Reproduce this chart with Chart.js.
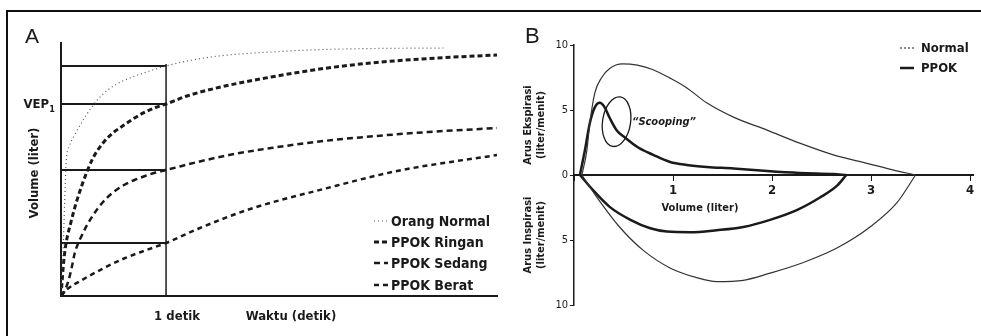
<!DOCTYPE html>
<html>
<head>
<meta charset="utf-8">
<script src="https://cdn.jsdelivr.net/npm/chart.js@4.4.1/dist/chart.umd.min.js"></script>
<style>
body { margin: 0; background: #fff; }
#wrap { position: relative; width: 981px; height: 336px; overflow: hidden; background: #fff; }
#frame { position: absolute; left: 6px; top: 10px; width: 980px; height: 330px; border-top: 2px solid #111; border-left: 2px solid #111; }
#chartA { position: absolute; left: 0; top: 0; }
#chartB { position: absolute; left: 520px; top: 0; }
</style>
</head>
<body>
<div id="wrap">
  <div id="frame"></div>
  <canvas id="chartA" width="520" height="336"></canvas>
  <canvas id="chartB" width="461" height="336"></canvas>
</div>
<script>
// ---- Panel A : volume (liter) vs waktu (detik)
const labelsA = ['Orang Normal', 'PPOK Ringan', 'PPOK Sedang', 'PPOK Berat'];

const timeNormal = [0, 0.02, 0.035, 0.05, 0.08, 0.13, 0.2, 0.3, 0.4, 0.5, 0.6, 0.8, 1.0, 1.2, 1.5, 2.0, 2.5, 3.0, 3.65];
const volNormal  = [0, 0.9, 1.9, 2.7, 3.0, 3.22, 3.48, 3.8, 4.04, 4.2, 4.31, 4.47, 4.60, 4.70, 4.80, 4.88, 4.93, 4.95, 4.96];

const timeRingan = [0, 0.03, 0.1, 0.2, 0.3, 0.4, 0.5, 0.6, 0.7, 0.8, 0.9, 1.0, 1.2, 1.5, 2.0, 2.5, 3.0, 3.5, 4.15];
const volRingan  = [0, 0.78, 1.52, 2.22, 2.74, 3.06, 3.27, 3.42, 3.56, 3.68, 3.77, 3.84, 4.0, 4.17, 4.38, 4.55, 4.67, 4.75, 4.82];

const timeSedang = [0, 0.03, 0.07, 0.1, 0.13, 0.2, 0.3, 0.4, 0.5, 0.6, 0.7, 0.8, 0.9, 1.0, 1.3, 1.6, 2.0, 2.5, 3.0, 3.5, 4.15];
const volSedang  = [0, 0.08, 0.3, 0.55, 0.85, 1.22, 1.6, 1.88, 2.08, 2.22, 2.32, 2.40, 2.47, 2.52, 2.68, 2.82, 2.96, 3.10, 3.20, 3.28, 3.36];

const timeBerat = [0, 0.05, 0.2, 0.4, 0.6, 0.8, 1.0, 1.3, 1.8, 2.5, 3.2, 4.15];
const volBerat  = [0, 0.12, 0.32, 0.55, 0.75, 0.91, 1.06, 1.34, 1.74, 2.14, 2.50, 2.82];

// volume tiap kurva pada 1 detik (garis bantu)
const volAt1s = [4.60, 3.84, 2.52, 1.06];
const vepValue = 3.84;

// ---- Panel B : kurva arus-volume
const labelsB = ['Normal', 'PPOK'];
const xTicksB = [0, 1, 2, 3, 4];
const yTicksB = [-10, -5, 0, 5, 10];

const normalExpVol  = [0.08, 0.13, 0.16, 0.21, 0.28, 0.36, 0.49, 0.64, 0.80, 0.97, 1.14, 1.34, 1.61, 1.95, 2.28, 2.62, 2.96, 3.22, 3.45];
const normalExpFlow = [0, 1.9, 4.0, 6.3, 7.5, 8.2, 8.55, 8.45, 8.1, 7.45, 6.7, 5.55, 4.45, 3.45, 2.45, 1.55, 0.9, 0.4, 0];

const normalInspVol  = [0.08, 0.23, 0.46, 0.70, 0.97, 1.24, 1.44, 1.71, 1.98, 2.31, 2.66, 2.99, 3.26, 3.45];
const normalInspFlow = [0, -1.7, -4.0, -5.8, -7.15, -7.9, -8.2, -8.1, -7.55, -6.75, -5.6, -4.0, -2.15, 0];

const ppokExpVol  = [0.06, 0.11, 0.16, 0.21, 0.26, 0.31, 0.36, 0.43, 0.52, 0.64, 0.80, 0.97, 1.14, 1.34, 1.61, 1.95, 2.28, 2.62, 2.75];
const ppokExpFlow = [0, 1.9, 4.0, 5.2, 5.55, 5.2, 4.4, 3.45, 2.85, 2.15, 1.55, 1.0, 0.77, 0.62, 0.5, 0.3, 0.15, 0.07, 0];

const ppokInspVol  = [0.06, 0.19, 0.36, 0.57, 0.77, 0.94, 1.17, 1.44, 1.71, 1.98, 2.25, 2.48, 2.66, 2.75];
const ppokInspFlow = [0, -1.15, -2.45, -3.45, -4.1, -4.35, -4.4, -4.25, -4.0, -3.45, -2.7, -1.75, -0.8, 0];

const scoopCenter = {x: 0.43, y: 4.1};

const ink = '#1a1a1a';
const condensed = '"DejaVu Sans Condensed", "DejaVu Sans", sans-serif';

function pts(xs, ys) {
	return xs.map((x, i) => ({x: x, y: ys[i]}));
}

function curve(label, data, color, width, dash) {
	return {
		label: label,
		data: data,
		showLine: true,
		fill: false,
		pointRadius: 0,
		borderColor: color,
		borderWidth: width,
		borderDash: dash,
		cubicInterpolationMode: 'monotone'
	};
}

const datasetsA = [
	curve(labelsA[0], pts(timeNormal, volNormal), '#555', 1.2, [1, 3]),
	curve(labelsA[1], pts(timeRingan, volRingan), ink, 3, [5, 3]),
	curve(labelsA[2], pts(timeSedang, volSedang), ink, 2.5, [6, 4]),
	curve(labelsA[3], pts(timeBerat, volBerat), ink, 2.5, [5, 4])
];
volAt1s.forEach(v => {
	datasetsA.push(curve('', [{x: 0, y: v}, {x: 1, y: v}], ink, 2, []));
});
datasetsA.push(curve('', [{x: 1, y: 0}, {x: 1, y: volAt1s[0] + 0.04}], ink, 1.5, []));

const panelAText = {
	id: 'panelAText',
	afterDraw(chart) {
		const ctx = chart.ctx;
		const x = chart.scales.x, y = chart.scales.y;
		ctx.save();
		ctx.fillStyle = ink;
		ctx.textBaseline = 'alphabetic';
		ctx.font = '21px "Liberation Sans", sans-serif';
		ctx.fillText('A', 25, 43);

		// VEP1
		const vy = y.getPixelForValue(vepValue);
		ctx.font = 'bold 13px ' + condensed;
		ctx.textAlign = 'right';
		ctx.fillText('VEP', 49, vy + 4);
		ctx.font = 'bold 9px ' + condensed;
		ctx.fillText('1', 55, vy + 8);

		// sumbu x
		ctx.font = 'bold 13px ' + condensed;
		ctx.textAlign = 'center';
		ctx.fillText('1 detik', x.getPixelForValue(1) + 11, 320);
		ctx.fillText('Waktu (detik)', 291, 320);

		// sumbu y
		ctx.save();
		ctx.translate(38, 173);
		ctx.rotate(-Math.PI / 2);
		ctx.fillText('Volume (liter)', 0, 0);
		ctx.restore();

		// legenda
		const rows = [221, 242, 263, 285];
		ctx.textAlign = 'left';
		ctx.textBaseline = 'middle';
		for (let i = 0; i < 4; i++) {
			const ds = chart.data.datasets[i];
			ctx.strokeStyle = ds.borderColor;
			ctx.lineWidth = ds.borderWidth;
			ctx.setLineDash(ds.borderDash);
			ctx.beginPath();
			ctx.moveTo(374, rows[i]);
			ctx.lineTo(388, rows[i]);
			ctx.stroke();
			ctx.font = 'bold 14px ' + condensed;
			ctx.fillText(ds.label, 391, rows[i] + 1);
		}
		ctx.restore();
	}
};

new Chart(document.querySelector('#chartA'), {
	type: 'scatter',
	data: { datasets: datasetsA },
	options: {
		responsive: false,
		animation: false,
		layout: { padding: { left: 61, right: 23, top: 43, bottom: 40 } },
		plugins: { legend: { display: false }, tooltip: { enabled: false } },
		scales: {
			x: {
				type: 'linear', min: 0, max: 4.15,
				ticks: { display: false },
				grid: { display: false },
				border: { display: true, color: ink, width: 2 },
				afterFit: s => { s.height = 0; }
			},
			y: {
				type: 'linear', min: 0, max: 5.06,
				ticks: { display: false },
				grid: { display: false },
				border: { display: true, color: ink, width: 2 },
				afterFit: s => { s.width = 0; }
			}
		}
	},
	plugins: [panelAText]
});

// ---- Panel B
const datasetsB = [
	curve(labelsB[0], pts(normalExpVol, normalExpFlow), '#333', 1.2, []),
	curve(labelsB[0], pts(normalInspVol, normalInspFlow), '#333', 1.2, []),
	curve(labelsB[1], pts(ppokExpVol, ppokExpFlow), ink, 2.5, []),
	curve(labelsB[1], pts(ppokInspVol, ppokInspFlow), ink, 2.5, [])
];

const panelBText = {
	id: 'panelBText',
	afterDraw(chart) {
		const ctx = chart.ctx;
		const x = chart.scales.x, y = chart.scales.y;
		ctx.save();
		ctx.fillStyle = ink;
		ctx.strokeStyle = ink;
		ctx.font = '22px "Liberation Sans", sans-serif';
		ctx.fillText('B', 5, 43);

		// judul sumbu y
		ctx.font = 'bold 11px ' + condensed;
		ctx.textAlign = 'center';
		ctx.textBaseline = 'middle';
		const titles = [['Arus Ekspirasi', 125], ['Arus Inspirasi', 235]];
		titles.forEach(t => {
			ctx.save();
			ctx.translate(8, t[1]);
			ctx.rotate(-Math.PI / 2);
			ctx.fillText(t[0], 0, 0);
			ctx.fillText('(liter/menit)', 0, 13);
			ctx.restore();
		});

		// judul sumbu x
		ctx.fillText('Volume (liter)', 180, 208);

		// "Scooping"
		const cx = x.getPixelForValue(scoopCenter.x);
		const cy = y.getPixelForValue(scoopCenter.y);
		ctx.lineWidth = 1.3;
		ctx.beginPath();
		ctx.ellipse(cx, cy, 14, 25, 0.15, 0, Math.PI * 2);
		ctx.stroke();
		ctx.font = 'italic bold 11px ' + condensed;
		ctx.textAlign = 'left';
		ctx.fillText('\u201cScooping\u201d', 112, 122);

		// legenda
		const rows = [48, 68];
		const idx = [0, 2];
		for (let i = 0; i < 2; i++) {
			const ds = chart.data.datasets[idx[i]];
			ctx.lineWidth = i === 0 ? 1.2 : 2.5;
			ctx.setLineDash(i === 0 ? [2, 2] : []);
			ctx.beginPath();
			ctx.moveTo(380, rows[i]);
			ctx.lineTo(394, rows[i]);
			ctx.stroke();
			ctx.font = 'bold 13px ' + condensed;
			ctx.fillText(ds.label, 401, rows[i] + 1);
		}
		ctx.restore();
	}
};

new Chart(document.querySelector('#chartB'), {
	type: 'scatter',
	data: { datasets: datasetsB },
	options: {
		responsive: false,
		animation: false,
		layout: { padding: { left: 34, right: 8, top: 45, bottom: 31 } },
		plugins: { legend: { display: false }, tooltip: { enabled: false } },
		scales: {
			x: {
				type: 'linear', min: 0, max: 4.03,
				position: { y: 0 },
				afterBuildTicks: s => { s.ticks = xTicksB.map(v => ({ value: v })); },
				ticks: {
					color: ink, padding: 3,
					font: { family: condensed, size: 13, weight: 'bold' },
					callback: v => (v === 0 ? '' : v)
				},
				grid: { display: true, drawOnChartArea: false, drawTicks: true, tickLength: 5, color: ink },
				border: { display: true, color: ink, width: 2 }
			},
			y: {
				type: 'linear', min: -10, max: 10,
				afterBuildTicks: s => { s.ticks = yTicksB.map(v => ({ value: v })); },
				ticks: {
					color: ink, padding: 2,
					font: { family: condensed, size: 11 },
					callback: v => Math.abs(v)
				},
				grid: { display: true, drawOnChartArea: false, drawTicks: true, tickLength: 4, color: ink },
				border: { display: true, color: ink, width: 1.5 },
				afterFit: s => { s.width = 20; }
			}
		}
	},
	plugins: [panelBText]
});
</script>
</body>
</html>
